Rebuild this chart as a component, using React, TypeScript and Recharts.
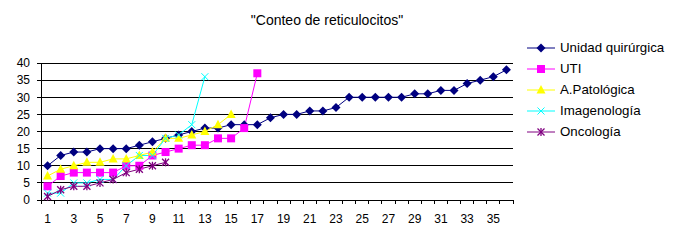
import React from "react";
import { CartesianGrid, Line, LineChart, XAxis, YAxis } from "recharts";

const categories = Array.from({ length: 36 }, (_, i) => i + 1);
const unidadQuirurgica = [10, 13, 14, 14, 15, 15, 15, 16, 17, 18, 19, 20, 21, 21, 22, 22, 22, 24, 25, 25, 26, 26, 27, 30, 30, 30, 30, 30, 31, 31, 32, 32, 34, 35, 36, 38];
const uti = [4, 7, 8, 8, 8, 8, 10, 10, 13, 14, 15, 16, 16, 18, 18, 21, 37];
const aPatologica = [7, 9, 10, 11, 11, 12, 12, 13, 14, 18, 18, 19, 20, 22, 25];
const imagenologia = [2, 2, 5, 5, 6, 6, 10, 13, 13, 18, 19, 22, 36];
const oncologia = [1, 3, 4, 4, 5, 6, 8, 9, 10, 11];
const yTicks = [0, 5, 10, 15, 20, 25, 30, 35, 40];
const xLabelTicks = categories.filter((c) => c % 2 === 1);
const xBoundaryTicks = [0.5, ...categories.map((c) => c + 0.5)];

const data = categories.map((x, i) => ({
  x,
  uq: unidadQuirurgica[i],
  uti: uti[i],
  ap: aPatologica[i],
  im: imagenologia[i],
  on: oncologia[i],
}));

const FONT = "'Liberation Sans', Arial, sans-serif";

type Marker = "diamond" | "square" | "triangle" | "x" | "star";

function drawMarker(kind: Marker, cx: number, cy: number, color: string, key?: string) {
  if (kind === "diamond")
    return <polygon key={key} points={`${cx},${cy - 4.5} ${cx + 4.5},${cy} ${cx},${cy + 4.5} ${cx - 4.5},${cy}`} fill={color} />;
  if (kind === "square") return <rect key={key} x={cx - 4} y={cy - 4} width={8} height={8} fill={color} />;
  if (kind === "triangle")
    return <polygon key={key} points={`${cx},${cy - 5} ${cx + 4.5},${cy + 3.5} ${cx - 4.5},${cy + 3.5}`} fill={color} />;
  if (kind === "x")
    return (
      <g key={key} stroke={color} strokeWidth={1}>
        <line x1={cx - 3.5} y1={cy - 3.5} x2={cx + 3.5} y2={cy + 3.5} />
        <line x1={cx - 3.5} y1={cy + 3.5} x2={cx + 3.5} y2={cy - 3.5} />
      </g>
    );
  return (
    <g key={key} stroke={color} strokeWidth={1.3}>
      <line x1={cx - 3.5} y1={cy - 3.5} x2={cx + 3.5} y2={cy + 3.5} />
      <line x1={cx - 3.5} y1={cy + 3.5} x2={cx + 3.5} y2={cy - 3.5} />
      <line x1={cx} y1={cy - 4} x2={cx} y2={cy + 4} />
    </g>
  );
}

const series: { key: string; name: string; color: string; marker: Marker }[] = [
  { key: "uq", name: "Unidad quirúrgica", color: "#000080", marker: "diamond" },
  { key: "uti", name: "UTI", color: "#FF00FF", marker: "square" },
  { key: "ap", name: "A.Patológica", color: "#FFFF00", marker: "triangle" },
  { key: "im", name: "Imagenología", color: "#00FFFF", marker: "x" },
  { key: "on", name: "Oncología", color: "#800080", marker: "star" },
];

const crisp = { stroke: "#000", shapeRendering: "crispEdges" as const };

export default function App() {
  return (
    <div style={{ position: "absolute", left: 0, top: 0, width: 684, height: 247, background: "#fff", fontFamily: FONT }}>
      <div style={{ position: "absolute", left: 0, width: 654, top: 12, textAlign: "center", fontSize: 14, color: "#000" }}>
        "Conteo de reticulocitos"
      </div>
      <LineChart width={684} height={247} data={data} margin={{ top: 63, right: 171, bottom: 16, left: 0 }}>
        <CartesianGrid
          vertical={false}
          yAxisId="y"
          xAxisId="xlab"
          horizontal={(p: any) => (
            <line key={p.key} x1={p.x1} y1={p.y1} x2={p.x2} y2={p.y2} stroke="#000" shapeRendering="crispEdges" />
          )}
        />
        <XAxis
          xAxisId="xlab"
          dataKey="x"
          type="number"
          domain={[0.5, 36.5]}
          ticks={xLabelTicks}
          height={30}
          axisLine={false}
          tickLine={false}
          tickSize={0}
          tickMargin={13}
          tick={{ fill: "#000", fontSize: 12, fontFamily: FONT }}
          interval={0}
        />
        <XAxis
          xAxisId="axis"
          dataKey="x"
          type="number"
          domain={[0.5, 36.5]}
          ticks={xBoundaryTicks}
          interval={0}
          tickFormatter={() => ""}
          height={1}
          tickSize={4}
          axisLine={crisp}
          tickLine={crisp}
        />
        <YAxis
          yAxisId="y"
          domain={[0, 40]}
          ticks={yTicks}
          width={41}
          interval={0}
          tickSize={4}
          tickMargin={7}
          axisLine={crisp}
          tickLine={crisp}
          tick={{ fill: "#000", fontSize: 12, fontFamily: FONT }}
        />
        {series.map((s) => (
          <Line
            key={s.key}
            xAxisId="xlab"
            yAxisId="y"
            dataKey={s.key}
            name={s.name}
            stroke={s.color}
            strokeWidth={1}
            isAnimationActive={false}
            connectNulls={false}
            dot={(p: any) =>
              p.value == null || p.cy == null ? <g key={p.key} /> : drawMarker(s.marker, p.cx, p.cy, s.color, p.key)
            }
            activeDot={false}
          />
        ))}
      </LineChart>
      <div style={{ position: "absolute", left: 526, top: 37 }}>
        {series.map((s) => (
          <div key={s.key} style={{ display: "flex", alignItems: "center", height: 21, fontSize: 13.3, color: "#000" }}>
            <svg width={30} height={12} style={{ marginRight: 4 }}>
              <line x1={1} y1={6} x2={29} y2={6} stroke={s.color} strokeWidth={1} />
              {drawMarker(s.marker, 15, 6, s.color)}
            </svg>
            {s.name}
          </div>
        ))}
      </div>
    </div>
  );
}
